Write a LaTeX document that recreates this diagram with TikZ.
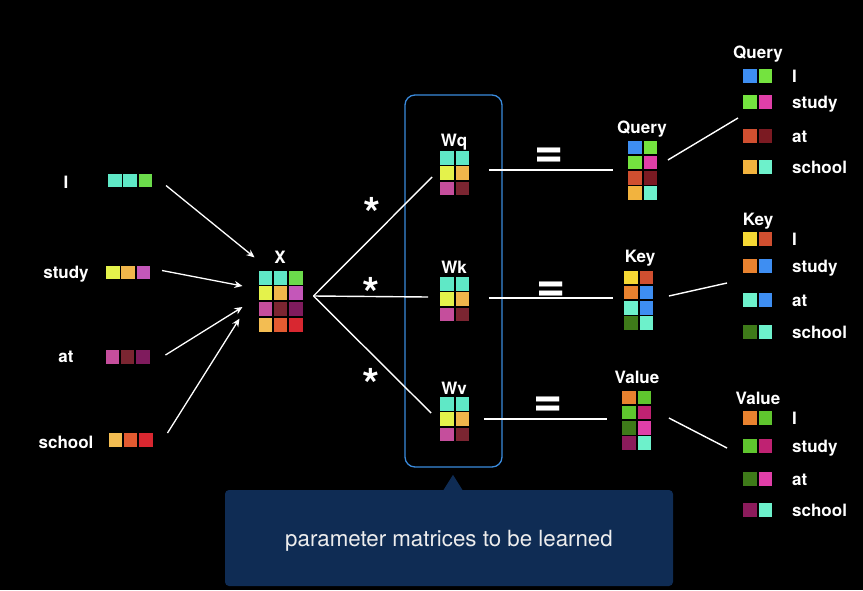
\documentclass[tikz,border=0pt]{standalone}
\usepackage{fontspec}
\setmainfont{TeX Gyre Heros}
\usetikzlibrary{matrix,arrows.meta}

\definecolor{cTeal}{HTML}{5FE8C6}
\definecolor{cGreen}{HTML}{6BDB4B}
\definecolor{cLime}{HTML}{E4F24B}
\definecolor{cAmber}{HTML}{F0B64B}
\definecolor{cOrchid}{HTML}{C457B9}
\definecolor{cPink}{HTML}{C54E9C}
\definecolor{cMaroon}{HTML}{7B2531}
\definecolor{cPlum}{HTML}{7F1B5D}
\definecolor{cSand}{HTML}{F3BD52}
\definecolor{cFlame}{HTML}{E35B31}
\definecolor{cRed}{HTML}{D82730}
\definecolor{qBlue}{HTML}{3E8EF2}
\definecolor{qGreen}{HTML}{74E33F}
\definecolor{qPink}{HTML}{E03FA8}
\definecolor{qRust}{HTML}{D04F30}
\definecolor{qWine}{HTML}{7B1A22}
\definecolor{qGold}{HTML}{F2B33E}
\definecolor{qAqua}{HTML}{6DF1CB}
\definecolor{kYellow}{HTML}{F5D834}
\definecolor{kOrange}{HTML}{E8822F}
\definecolor{kForest}{HTML}{3E7A19}
\definecolor{vGreen}{HTML}{5FC52E}
\definecolor{vMagenta}{HTML}{BF2272}
\definecolor{vPlum}{HTML}{8B1B5B}
\definecolor{boxBlue}{HTML}{3A8BDD}
\definecolor{noteBlue}{HTML}{0F2C54}

\tikzset{
  cell/.style={draw=black, line width=0.7pt, minimum width=14.5pt, minimum height=14.5pt, inner sep=0pt},
  vec/.style={matrix of nodes, inner sep=0pt, column sep=0pt, row sep=0pt, nodes={cell}},
  lbl/.style={text=white, font=\bfseries\fontsize{17}{20}\selectfont, inner sep=0pt, anchor=base},
  item/.style={lbl, anchor=base west},
  op/.style={text=white, font=\bfseries\fontsize{44}{44}\selectfont, inner sep=0pt, anchor=base},
  eqs/.style={op, font=\bfseries\fontsize{50}{50}\selectfont},
  arr/.style={white, line width=1.3pt, -{Stealth[length=8pt,width=7pt]}},
  link/.style={white, line width=1.4pt},
}

\begin{document}
\begin{tikzpicture}[x=1pt,y=-1pt]
  \fill[black] (0,0) rectangle (863,590);

  % input words
  \node[lbl] (wI) at (66,188) {I};
  \node[lbl] (wStudy) at (66,278) {study};
  \node[lbl] (wAt) at (66,362) {at};
  \node[lbl] (wSchool) at (66,448) {school};
  \matrix (vI) [vec] at (130,180.5) {|[fill=cTeal]| & |[fill=cTeal]| & |[fill=cGreen]| \\};
  \matrix (vStudy) [vec] at (128,272.5) {|[fill=cLime]| & |[fill=cAmber]| & |[fill=cOrchid]| \\};
  \matrix (vAt) [vec] at (127.5,357) {|[fill=cPink]| & |[fill=cMaroon]| & |[fill=cPlum]| \\};
  \matrix (vSchool) [vec] at (130.5,440) {|[fill=cSand]| & |[fill=cFlame]| & |[fill=cRed]| \\};

  % X
  \node[lbl] (tX) at (280,263) {X};
  \matrix (X) [vec, nodes={minimum height=15pt}] at (280.5,301) {
    |[fill=cTeal]| & |[fill=cTeal]| & |[fill=cGreen]| \\
    |[fill=cLime]| & |[fill=cAmber]| & |[fill=cOrchid]| \\
    |[fill=cPink]| & |[fill=cMaroon]| & |[fill=cPlum]| \\
    |[fill=cSand]| & |[fill=cFlame]| & |[fill=cRed]| \\
  };
  \draw[arr] ([shift={(13,5)}]vI.east) -- ([shift={(-3,-12)}]X.north west);
  \draw[arr] ([shift={(11,-2)}]vStudy.east) -- ([shift={(-15,-15)}]X.west);
  \draw[arr] ([shift={(15,-2)}]vAt.east) -- ([shift={(-15,6)}]X.west);
  \draw[arr] ([shift={(14,-7)}]vSchool.east) -- ([shift={(-18,-14)}]X.south west);

  % weight matrices
  \node[draw=boxBlue, line width=1.3pt, rounded corners=10pt, minimum width=97pt, minimum height=372pt] (wbox) at (453.5,281) {};
  \node[lbl] (tWq) at (454,146) {Wq};
  \node[lbl] (tWk) at (454,273) {Wk};
  \node[lbl] (tWv) at (454,394) {Wv};
  \matrix (Wq) [vec] at (454.5,173) {
    |[fill=cTeal]| & |[fill=cTeal]| \\
    |[fill=cLime]| & |[fill=cAmber]| \\
    |[fill=cPink]| & |[fill=cMaroon]| \\
  };
  \matrix (Wk) [vec] at (454.5,299) {
    |[fill=cTeal]| & |[fill=cTeal]| \\
    |[fill=cLime]| & |[fill=cAmber]| \\
    |[fill=cPink]| & |[fill=cMaroon]| \\
  };
  \matrix (Wv) [vec] at (454.5,419) {
    |[fill=cTeal]| & |[fill=cTeal]| \\
    |[fill=cLime]| & |[fill=cAmber]| \\
    |[fill=cPink]| & |[fill=cMaroon]| \\
  };
  \draw[link] ([shift={(10,-5)}]X.east) -- ([shift={(-7,4)}]Wq.west);
  \draw[link] ([shift={(10,-5)}]X.east) -- ([shift={(-11,-2)}]Wk.west);
  \draw[link] ([shift={(10,-5)}]X.east) -- ([shift={(-8,-6)}]Wv.west);
  \node[op] (ast1) at (372,229) {*};
  \node[op] (ast2) at (371,309) {*};
  \node[op] (ast3) at (371,400) {*};

  % results
  \node[lbl] (tQuery) at (642,133) {Query};
  \node[lbl] (tKey) at (640,262) {Key};
  \node[lbl] (tValue) at (637,383) {Value};
  \matrix (Query) [vec] at (642.5,170) {
    |[fill=qBlue]| & |[fill=qGreen]| \\
    |[fill=qGreen]| & |[fill=qPink]| \\
    |[fill=qRust]| & |[fill=qWine]| \\
    |[fill=qGold]| & |[fill=qAqua]| \\
  };
  \matrix (Key) [vec] at (638.5,300) {
    |[fill=kYellow]| & |[fill=qRust]| \\
    |[fill=kOrange]| & |[fill=qBlue]| \\
    |[fill=qAqua]| & |[fill=qBlue]| \\
    |[fill=kForest]| & |[fill=qAqua]| \\
  };
  \matrix (Value) [vec] at (636.5,420) {
    |[fill=kOrange]| & |[fill=vGreen]| \\
    |[fill=vGreen]| & |[fill=vMagenta]| \\
    |[fill=kForest]| & |[fill=qPink]| \\
    |[fill=vPlum]| & |[fill=qAqua]| \\
  };
  \draw[link] ([shift={(19,-3)}]Wq.east) -- ([shift={(-14,0)}]Query.west);
  \draw[link] ([shift={(19,-1)}]Wk.east) -- ([shift={(-10,-2)}]Key.west);
  \draw[link] ([shift={(14,0)}]Wv.east) -- ([shift={(-14,-1)}]Value.west);
  \node[eqs] (eq1) at (549,167) {=};
  \node[eqs] (eq2) at (551,301) {=};
  \node[eqs] (eq3) at (548,416) {=};

  % per word lists
  \node[lbl] (lQuery) at (758,58) {Query};
  \matrix (qlI) [vec] at (757.5,76) {|[fill=qBlue]| & |[fill=qGreen]| \\};
  \matrix (qlStudy) [vec] at (757.5,102) {|[fill=qGreen]| & |[fill=qPink]| \\};
  \matrix (qlAt) [vec] at (757.5,136) {|[fill=qRust]| & |[fill=qWine]| \\};
  \matrix (qlSchool) [vec] at (757.5,167) {|[fill=qGold]| & |[fill=qAqua]| \\};
  \node[item] (qtI) at (792,82) {I};
  \node[item] (qtStudy) at (792,108) {study};
  \node[item] (qtAt) at (792,142) {at};
  \node[item] (qtSchool) at (792,173) {school};

  \node[lbl] (lKey) at (758,225) {Key};
  \matrix (klI) [vec] at (757.5,239) {|[fill=kYellow]| & |[fill=qRust]| \\};
  \matrix (klStudy) [vec] at (757.5,266) {|[fill=kOrange]| & |[fill=qBlue]| \\};
  \matrix (klAt) [vec] at (757.5,300) {|[fill=qAqua]| & |[fill=qBlue]| \\};
  \matrix (klSchool) [vec] at (757.5,332) {|[fill=kForest]| & |[fill=qAqua]| \\};
  \node[item] (ktI) at (792,245) {I};
  \node[item] (ktStudy) at (792,272) {study};
  \node[item] (ktAt) at (792,306) {at};
  \node[item] (ktSchool) at (792,338) {school};

  \node[lbl] (lValue) at (758,404) {Value};
  \matrix (vlI) [vec] at (757.5,418) {|[fill=kOrange]| & |[fill=vGreen]| \\};
  \matrix (vlStudy) [vec] at (757.5,446) {|[fill=vGreen]| & |[fill=vMagenta]| \\};
  \matrix (vlAt) [vec] at (757.5,479) {|[fill=kForest]| & |[fill=qPink]| \\};
  \matrix (vlSchool) [vec] at (757.5,510) {|[fill=vPlum]| & |[fill=qAqua]| \\};
  \node[item] (vtI) at (792,424) {I};
  \node[item] (vtStudy) at (792,452) {study};
  \node[item] (vtAt) at (792,485) {at};
  \node[item] (vtSchool) at (792,516) {school};

  \coordinate (qEnd) at (738,118);
  \coordinate (kEnd) at (727,283);
  \coordinate (vEnd) at (727,448);
  \draw[link] ([shift={(10,-10)}]Query.east) -- (qEnd);
  \draw[link] ([shift={(15,-4)}]Key.east) -- (kEnd);
  \draw[link] ([shift={(17,-2)}]Value.east) -- (vEnd);

  % callout
  \node[fill=noteBlue, rounded corners=4pt, minimum width=448pt, minimum height=96pt, text=white!93!black, text depth=0pt, font=\fontsize{22.3}{25}\selectfont] (note) at (449,538) {parameter matrices to be learned};
  \fill[noteBlue] ([shift={(-6,1)}]note.north) -- ([shift={(4,-15)}]note.north) -- ([shift={(14,1)}]note.north) -- cycle;
\end{tikzpicture}
\end{document}
